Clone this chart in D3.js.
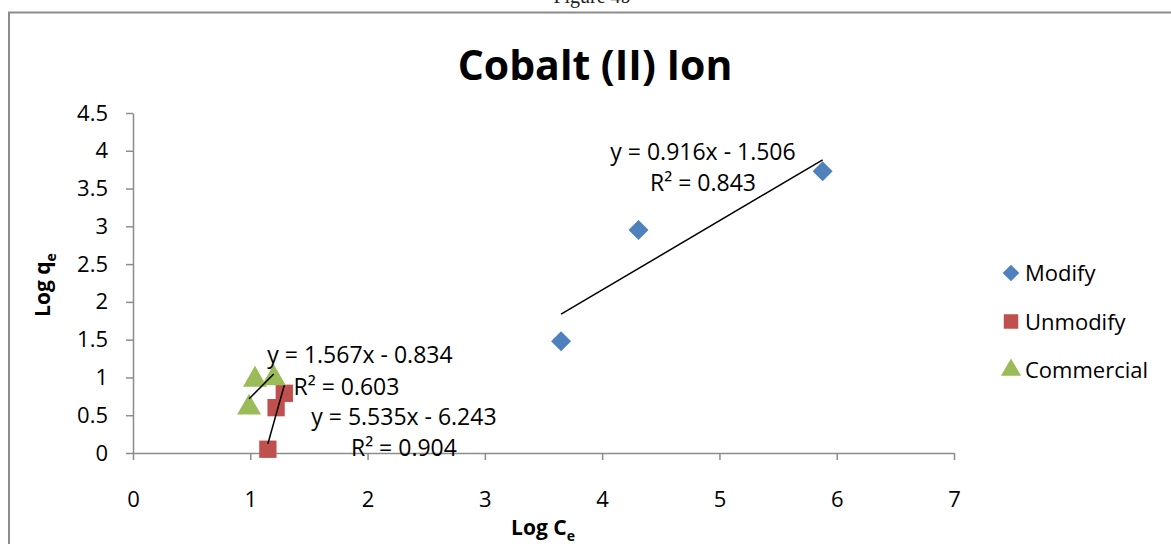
<!DOCTYPE html>
<html>
<head>
<meta charset="utf-8">
<script src="https://cdn.jsdelivr.net/npm/d3@7"></script>
<style>
  html, body { margin: 0; padding: 0; background: #fff; }
  svg { display: block; font-family: "Open Sans", "DejaVu Sans", sans-serif; }
</style>
</head>
<body>
<svg id="chart" width="1171" height="544"></svg>
<script>
// Log C_e / Log q_e values for each adsorbent
const modifyX = [3.65, 4.31, 5.88];
const modifyY = [1.48, 2.95, 3.73];
const unmodifyX = [1.15, 1.22, 1.29];
const unmodifyY = [0.05, 0.60, 0.79];
const commercialX = [0.99, 1.04, 1.20];
const commercialY = [0.60, 0.97, 0.99];

// Linear trendline coefficients (slope, intercept, R²)
const trendSlope = [0.916, 5.535, 1.567];
const trendIntercept = [-1.506, -6.243, -0.834];
const trendR2 = [0.843, 0.904, 0.603];

const seriesNames = ["Modify", "Unmodify", "Commercial"];
const xTicks = [0, 1, 2, 3, 4, 5, 6, 7];
const yTicks = [0, 0.5, 1, 1.5, 2, 2.5, 3, 3.5, 4, 4.5];

const colors = ["#4F81BD", "#C0504D", "#9BBB59"];
// diamond = square turned 45°
const symbols = [d3.symbolSquare, d3.symbolSquare, d3.symbolTriangle];
const symbolRotate = [45, 0, 0];
const markerSize = [200, 300, 250];

// Anchor points (data units) for the trendline equation labels
const eqAnchor = [[4.86, 3.98], [2.31, 0.48], [1.935, 1.30]];
const r2Anchor = [[4.86, 3.57], [2.31, 0.065], [1.82, 0.87]];

const svg = d3.select("#chart");

// page caption above the chart frame
svg.append("text")
  .attr("x", 592).attr("y", 3)
  .attr("text-anchor", "middle")
  .style("font-family", "'Liberation Serif', serif")
  .style("font-size", "20px")
  .attr("fill", "#222")
  .text("Figure 4b");

// chart frame
svg.append("rect")
  .attr("x", 9).attr("y", 12.5)
  .attr("width", 1180).attr("height", 560)
  .attr("fill", "none")
  .attr("stroke", "#8c8c8c")
  .attr("stroke-width", 2);

const x = d3.scaleLinear().domain([0, 7]).range([133, 954]);
const y = d3.scaleLinear().domain([0, 4.5]).range([453, 113]);

// title
svg.append("text")
  .attr("x", 595).attr("y", 80)
  .attr("text-anchor", "middle")
  .style("font-size", "41px")
  .style("font-weight", "bold")
  .text("Cobalt (II) Ion");

// y axis
const yAxis = svg.append("g")
  .attr("transform", `translate(${x(0)},0)`)
  .call(d3.axisLeft(y).tickValues(yTicks).tickSize(7).tickSizeOuter(0).tickPadding(18)
    .tickFormat(d3.format("")));
yAxis.select(".domain").attr("stroke", "#8c8c8c").attr("stroke-width", 1.5);
yAxis.selectAll(".tick line").attr("stroke", "#8c8c8c").attr("stroke-width", 1.5);
yAxis.selectAll(".tick text")
  .style("font-size", "22px").style("font-family", "'Open Sans', sans-serif")
  .attr("fill", "#000");

// x axis along y = 0
const xAxis = svg.append("g")
  .attr("transform", `translate(0,${y(0)})`)
  .call(d3.axisBottom(x).tickValues(xTicks).tickSize(7).tickSizeOuter(0).tickPadding(31)
    .tickFormat(d3.format("")));
xAxis.select(".domain").attr("stroke", "#8c8c8c").attr("stroke-width", 1.5);
xAxis.selectAll(".tick line").attr("stroke", "#8c8c8c").attr("stroke-width", 1.5);
xAxis.selectAll(".tick text")
  .style("font-size", "22px").style("font-family", "'Open Sans', sans-serif")
  .attr("fill", "#000");

// axis titles
const xt = svg.append("text")
  .attr("x", 543).attr("y", 535)
  .attr("text-anchor", "middle")
  .style("font-size", "21px").style("font-weight", "bold");
xt.append("tspan").text("Log C");
xt.append("tspan").attr("dy", 6).style("font-size", "14px").text("e");

const yt = svg.append("text")
  .attr("transform", "translate(50,285) rotate(-90)")
  .attr("text-anchor", "middle")
  .style("font-size", "21px").style("font-weight", "bold");
yt.append("tspan").text("Log q");
yt.append("tspan").attr("dy", 6).style("font-size", "14px").text("e");

const seriesX = [modifyX, unmodifyX, commercialX];
const seriesY = [modifyY, unmodifyY, commercialY];

// data markers
seriesX.forEach((xs, i) => {
  const pts = xs.map((v, j) => [v, seriesY[i][j]]);
  svg.append("g").selectAll("path")
    .data(pts).join("path")
    .attr("transform", d => `translate(${x(d[0])},${y(d[1])}) rotate(${symbolRotate[i]})`)
    .attr("d", d3.symbol().type(symbols[i]).size(markerSize[i]))
    .attr("fill", colors[i]);
});

// trendlines over each series' x range
const line = d3.line().x(d => x(d[0])).y(d => y(d[1]));
seriesX.forEach((xs, i) => {
  const [x0, x1] = d3.extent(xs);
  const pts = [x0, x1].map(v => [v, trendSlope[i] * v + trendIntercept[i]]);
  svg.append("path")
    .attr("d", line(pts))
    .attr("fill", "none")
    .attr("stroke", "#000")
    .attr("stroke-width", 1.5);
});

// trendline equations
const fmt = d3.format(".3f");
seriesX.forEach((xs, i) => {
  const b = trendIntercept[i];
  svg.append("text")
    .attr("x", x(eqAnchor[i][0])).attr("y", y(eqAnchor[i][1]) + 8)
    .attr("text-anchor", "middle")
    .style("font-size", "23px")
    .text(`y = ${fmt(trendSlope[i])}x ${b < 0 ? "-" : "+"} ${fmt(Math.abs(b))}`);
  svg.append("text")
    .attr("x", x(r2Anchor[i][0])).attr("y", y(r2Anchor[i][1]) + 8)
    .attr("text-anchor", "middle")
    .style("font-size", "23px")
    .text(`R² = ${fmt(trendR2[i])}`);
});

// legend
const legend = svg.append("g");
seriesNames.forEach((name, i) => {
  const cy = 273 + i * 48.5;
  legend.append("path")
    .attr("transform", `translate(1011,${cy}) rotate(${symbolRotate[i]})`)
    .attr("d", d3.symbol().type(symbols[i]).size(markerSize[i] * 0.7))
    .attr("fill", colors[i]);
  legend.append("text")
    .attr("x", 1025).attr("y", cy + 8)
    .style("font-size", "22px")
    .text(name);
});
</script>
</body>
</html>
